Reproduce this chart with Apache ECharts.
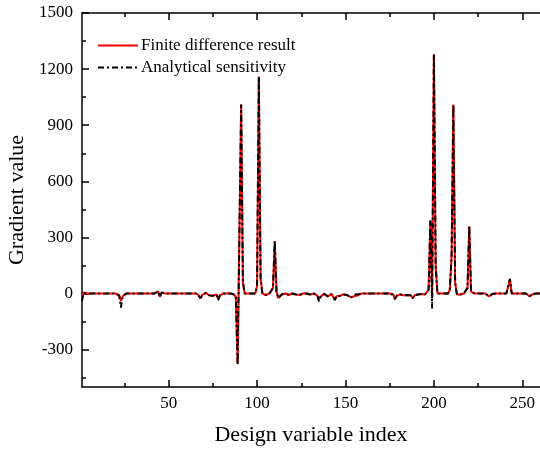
<!DOCTYPE html>
<html>
<head>
<meta charset="utf-8">
<script src="https://cdn.jsdelivr.net/npm/echarts@6/dist/echarts.min.js"></script>
<style>html,body{margin:0;padding:0;background:#fff;}#chart{width:540px;height:450px;}</style>
</head>
<body>
<div id="chart"></div>
<script>
// Design variable indices start at 1
const firstIndex = 1;

// Analytical sensitivity (black dash-dot), indices 1..260
const analytical = [
  -40, 5, 2, 0, 0, 0, 0, 0, 0, 0,
  0, 0, 0, 0, 0, 0, 0, 0, 0, 0,
  0, -10, -75, -15, -5, 0, 0, 0, 0, 0,
  0, 0, 0, 0, 0, 0, 0, 0, 0, 0,
  0, 0, 0, 12, -18, 5, 0, 0, 0, 0,
  0, 0, -6, 0, 0, 0, 0, 0, 0, 0,
  0, 0, 0, 0, 0, 0, -5, -25, -8, -5,
  3, -3, -10, -5, -12, -3, -5, -35, -10, -3,
  0, -3, 0, 0, 0, 0, -5, -20, -385, 310,
  1010, 60, 0, 0, 0, 0, 0, 0, 0, 40,
  1160, 80, 0, -5, -8, -5, 0, 0, 30, 280,
  10, -25, -15, -5, -8, 0, -3, -8, -3, 0,
  0, -5, -10, -8, -3, 0, 0, 0, 0, -5,
  0, 0, -3, -10, -43, -15, -8, -2, -10, -15,
  -5, -3, -10, -35, -15, -8, -12, -5, -5, -3,
  -8, -5, -25, -10, -15, -5, -10, -3, 0, 0,
  0, 0, 0, 0, 0, 0, 0, 0, 0, 0,
  0, 0, 0, 0, 0, 0, -5, -30, -12, -3,
  -5, -3, -10, -15, -8, -5, -10, -25, -10, -3,
  -5, -5, -3, -2, -5, -3, 20, 390, -80, 1280,
  150, 0, 0, 0, 0, 0, 0, 0, 20, 200,
  1010, 60, -5, -10, -5, 0, 0, 0, 30, 360,
  10, 0, 0, 0, 0, 0, 0, 0, 0, -5,
  -15, -10, -3, 0, 0, 0, 0, 0, 0, 0,
  0, 5, 78, 0, 0, 0, 0, 0, 0, 0,
  0, 0, -5, -15, -10, -3, 0, 0, 0, 0
];

// Finite difference result (red solid), indices 1..260
const finiteDiff = [
  -20, 5, 2, 0, 0, 0, 0, 0, 0, 0,
  0, 0, 0, 0, 0, 0, 0, 0, 0, 0,
  0, -10, -40, -15, -5, 0, 0, 0, 0, 0,
  0, 0, 0, 0, 0, 0, 0, 0, 0, 0,
  0, 0, 0, 12, -18, 5, 0, 0, 0, 0,
  0, 0, -6, 0, 0, 0, 0, 0, 0, 0,
  0, 0, 0, 0, 0, 0, -5, -25, -8, -5,
  3, -3, -10, -5, -12, -3, -5, -30, -10, -3,
  0, -3, 0, 0, 0, 0, -5, -20, -370, 310,
  1010, 60, 0, 0, 0, 0, 0, 0, 0, 40,
  1160, 80, 0, -5, -8, -5, 0, 0, 30, 280,
  10, -25, -15, -5, -8, 0, -3, -8, -3, 0,
  0, -5, -10, -8, -3, 0, 0, 0, 0, -5,
  0, 0, -3, -10, -30, -15, -8, -2, -10, -15,
  -5, -3, -10, -30, -15, -8, -12, -5, -5, -3,
  -8, -5, -20, -10, -15, -5, -10, -3, 0, 0,
  0, 0, 0, 0, 0, 0, 0, 0, 0, 0,
  0, 0, 0, 0, 0, 0, -5, -28, -12, -3,
  -5, -3, -10, -15, -8, -5, -10, -25, -10, -3,
  -5, -5, -3, -2, -5, -3, 20, 390, -20, 1280,
  150, 0, 0, 0, 0, 0, 0, 0, 20, 200,
  1010, 60, -5, -10, -5, 0, 0, 0, 30, 360,
  10, 0, 0, 0, 0, 0, 0, 0, 0, -5,
  -15, -10, -3, 0, 0, 0, 0, 0, 0, 0,
  0, 5, 78, 0, 0, 0, 0, 0, 0, 0,
  0, 0, -5, -15, -10, -3, 0, 0, 0, 0
];

const seriesNames = ['Finite difference result', 'Analytical sensitivity'];
const xMajorTicks = [50, 100, 150, 200, 250];
const xMinorTicks = [25, 75, 125, 175, 225];
const yMajorTicks = [-300, 0, 300, 600, 900, 1200, 1500];
const yMinorTicks = [-450, -150, 150, 450, 750, 1050, 1350];
const xRange = [1, 260];
const yRange = [-500, 1500];
const xTitle = 'Design variable index';
const yTitle = 'Gradient value';

const toPairs = arr => arr.map((v, i) => [i + firstIndex, v]);

const FONT = '"Liberation Serif", "Times New Roman", serif';
const lineCol = '#000';
const plain = v => String(v);

function xAx(opts) {
  return Object.assign({
    type: 'value', min: xRange[0], max: xRange[1],
    axisLine: { show: false, onZero: false },
    axisTick: { show: false },
    axisLabel: { show: false },
    splitLine: { show: false }
  }, opts);
}
function yAx(opts) {
  return Object.assign({
    type: 'value', min: yRange[0], max: yRange[1],
    axisLine: { show: false, onZero: false },
    axisTick: { show: false },
    axisLabel: { show: false },
    splitLine: { show: false }
  }, opts);
}

const chart = echarts.init(document.getElementById('chart'), null, { renderer: 'canvas' });
chart.setOption({
  animation: false,
  backgroundColor: '#fff',
  grid: { left: 82, right: 0, top: 13, bottom: 63, containLabel: false, outerBoundsMode: 'none' },
  legend: {
    left: 92, top: 32, orient: 'vertical',
    itemWidth: 40, itemHeight: 14, itemGap: 5,
    itemStyle: { opacity: 0 },
    textStyle: { fontFamily: FONT, fontSize: 17, color: '#000', padding: [0, 0, 0, -2] },
    data: seriesNames
  },
  xAxis: [
    xAx({
      position: 'bottom',
      axisLine: { show: true, onZero: false, lineStyle: { color: lineCol, width: 1.5 } },
      axisTick: { show: true, inside: true, length: 7, customValues: xMajorTicks, lineStyle: { color: lineCol, width: 1.5 } },
      axisLabel: { show: true, customValues: xMajorTicks, formatter: plain, margin: 8, fontFamily: FONT, fontSize: 17, color: '#000' },
      name: xTitle, nameLocation: 'middle', nameGap: 37,
      nameTextStyle: { fontFamily: FONT, fontSize: 22, color: '#000' }
    }),
    xAx({
      position: 'bottom',
      axisTick: { show: true, inside: true, length: 4, customValues: xMinorTicks, lineStyle: { color: lineCol, width: 1.5 } }
    }),
    xAx({
      position: 'top',
      axisLine: { show: true, onZero: false, lineStyle: { color: lineCol, width: 1.5 } },
      axisTick: { show: true, inside: true, length: 7, customValues: xMajorTicks, lineStyle: { color: lineCol, width: 1.5 } }
    }),
    xAx({
      position: 'top',
      axisTick: { show: true, inside: true, length: 4, customValues: xMinorTicks, lineStyle: { color: lineCol, width: 1.5 } }
    })
  ],
  yAxis: [
    yAx({
      position: 'left',
      axisLine: { show: true, onZero: false, lineStyle: { color: lineCol, width: 1.5 } },
      axisTick: { show: true, inside: true, length: 7, customValues: yMajorTicks, lineStyle: { color: lineCol, width: 1.5 } },
      axisLabel: { show: true, customValues: yMajorTicks, formatter: plain, margin: 9, fontFamily: FONT, fontSize: 17, color: '#000' },
      name: yTitle, nameLocation: 'middle', nameGap: 46,
      nameTextStyle: { fontFamily: FONT, fontSize: 22, color: '#000' }
    }),
    yAx({
      position: 'left',
      axisTick: { show: true, inside: true, length: 4, customValues: yMinorTicks, lineStyle: { color: lineCol, width: 1.5 } }
    })
  ],
  series: [
    {
      name: seriesNames[0], type: 'line', xAxisIndex: 0, yAxisIndex: 0,
      data: toPairs(finiteDiff), symbol: 'none', showSymbol: false,
      color: '#ff0000',
      lineStyle: { color: '#ff0000', width: 2, type: 'solid' },
      z: 2
    },
    {
      name: seriesNames[1], type: 'line', xAxisIndex: 0, yAxisIndex: 0,
      data: toPairs(analytical), symbol: 'none', showSymbol: false,
      color: '#000',
      lineStyle: { color: '#000', width: 2, type: [6, 3, 2, 3] },
      z: 3
    }
  ]
});
</script>
</body>
</html>
